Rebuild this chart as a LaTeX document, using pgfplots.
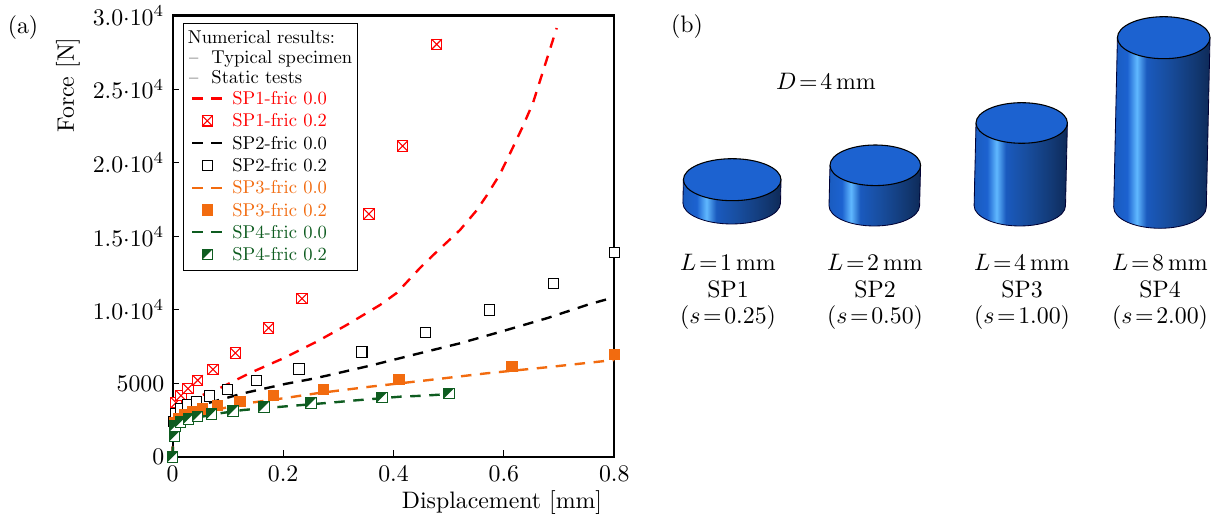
\documentclass[border=0pt]{standalone}
\usepackage{pgfplots}
\pgfplotsset{compat=1.18}
\font\legfont=cmr10 at 7.8pt
\definecolor{spred}{RGB}{255,0,0}
\definecolor{sporange}{RGB}{242,107,15}
\definecolor{spgreen}{RGB}{14,92,32}
\definecolor{cyltop}{RGB}{28,98,208}
\definecolor{cA}{RGB}{26,92,192}
\definecolor{cB}{RGB}{28,98,208}
\definecolor{cC}{RGB}{96,184,255}
\definecolor{cD}{RGB}{26,90,190}
\definecolor{cE}{RGB}{24,78,160}
\definecolor{cF}{RGB}{18,56,114}
\definecolor{cG}{RGB}{14,42,88}
\pgfdeclarehorizontalshading{cyl}{100bp}{
 color(0bp)=(cA);
 color(25bp)=(cA);
 color(32bp)=(cB);
 color(37bp)=(cC);
 color(42bp)=(cD);
 color(52.5bp)=(cE);
 color(67.5bp)=(cF);
 color(75bp)=(cG);
 color(100bp)=(cG)}
\pgfdeclareplotmark{sqx}{%
 \pgfpathrectangle{\pgfpoint{-\pgfplotmarksize}{-\pgfplotmarksize}}{\pgfpoint{2\pgfplotmarksize}{2\pgfplotmarksize}}%
 \pgfusepathqfillstroke
 \pgfpathmoveto{\pgfpoint{-\pgfplotmarksize}{-\pgfplotmarksize}}%
 \pgfpathlineto{\pgfpoint{\pgfplotmarksize}{\pgfplotmarksize}}%
 \pgfpathmoveto{\pgfpoint{-\pgfplotmarksize}{\pgfplotmarksize}}%
 \pgfpathlineto{\pgfpoint{\pgfplotmarksize}{-\pgfplotmarksize}}%
 \pgfusepathqstroke}
\pgfdeclareplotmark{sqhalf}{%
 \pgfsetfillcolor{white}%
 \pgfpathrectangle{\pgfpoint{-\pgfplotmarksize}{-\pgfplotmarksize}}{\pgfpoint{2\pgfplotmarksize}{2\pgfplotmarksize}}%
 \pgfusepathqfillstroke
 \pgfsetfillcolor{spgreen}%
 \pgfpathmoveto{\pgfpoint{-\pgfplotmarksize}{-\pgfplotmarksize}}%
 \pgfpathlineto{\pgfpoint{-\pgfplotmarksize}{\pgfplotmarksize}}%
 \pgfpathlineto{\pgfpoint{\pgfplotmarksize}{\pgfplotmarksize}}%
 \pgfpathclose
 \pgfusepathqfill}
\newcommand{\rowB}{\vphantom{\rule[-2.6pt]{1pt}{9.2pt}}}
\newcommand{\rowAt}[2]{\raisebox{#1}[5.5pt][2.5pt]{#2}}
\newcommand{\cylinder}[6]{% top cx, top cy, rx, ry, bottom cx, bottom cy
 \shade[shading=cyl] (#1-#3,#2) -- (#5-#3,#6) arc[start angle=180,end angle=360,x radius=#3,y radius=#4] -- (#1+#3,#2) -- cycle;
 \draw[line width=0.35pt,black!80!blue] (#1-#3,#2) -- (#5-#3,#6) arc[start angle=180,end angle=360,x radius=#3,y radius=#4] -- (#1+#3,#2);
 \draw[line width=0.45pt,black,fill=cyltop] (#1,#2) ellipse[x radius=#3,y radius=#4];
}
\begin{document}
\begin{tikzpicture}[x=0.42pt,y=0.42pt]
\path[use as bounding box] (0,0) rectangle (1216,521);
\begin{axis}[
 at={(72.534pt,26.88pt)}, anchor=south west,
 scale only axis, width=185.47pt, height=185.35pt,
 xmin=0, xmax=0.8, ymin=0, ymax=30000,
 clip=false,
 xtick={0,0.2,0.4,0.6,0.8},
 xticklabels={0,0.2,0.4,0.6,0.8},
 ytick={0,5000,10000,15000,20000,25000,30000},
 yticklabels={0,5000,{$1.0{\cdot}10^4$},{$1.5{\cdot}10^4$},{$2.0{\cdot}10^4$},{$2.5{\cdot}10^4$},{$3.0{\cdot}10^4$}},
 scaled ticks=false,
 tick pos=left, tick align=inside,
 axis line style={line width=1pt},
 tick style={line width=0.4pt,black},
 major tick length=2.8pt,
 xlabel={Displacement [mm]},
 ylabel={Force [N]},
 xlabel style={at={(axis description cs:0.7457,-0.104)},anchor=center},
 ylabel style={at={(axis description cs:-0.237,0.843)},anchor=center},
 legend cell align=left,
 legend image code/.code={\draw[mark repeat=2,mark phase=2,#1] plot coordinates {(0cm,0cm)(0.22cm,0cm)(0.44cm,0cm)};},
 legend style={at={(axis description cs:0.0224,0.9828)},anchor=north west,font=\legfont,
   draw=black,line width=0.4pt,inner xsep=3.4pt,inner ysep=2.6pt,row sep=1.26pt,
   nodes={inner sep=0pt},
   /tikz/every odd column/.append style={column sep=3.8pt}},
 mark size=2.15pt,
 every axis plot/.append style={line width=1pt},
 ldash/.style={dash pattern=on 4.4pt off 3.6pt},
]
\addlegendimage{empty legend}\addlegendentry{\makebox[49.1pt][l]{\hspace*{-18.7pt}\rowAt{0pt}{Numerical results:}}}
\addlegendimage{empty legend}\addlegendentry{\makebox[0pt][l]{\hspace*{-18.7pt}\rowAt{-0.45pt}{--\hspace{2.9pt} Typical specimen}}}
\addlegendimage{empty legend}\addlegendentry{\makebox[0pt][l]{\hspace*{-18.7pt}\rowAt{-0.4pt}{--\hspace{2.9pt} Static tests}}}

\addplot[spred,ldash] coordinates {(0,0)(.0005,1835)(.006,2855)(.0223,3535)(.0495,4147)(.0857,4690)(.140,5710)(.2004,6710)(.2609,7838)(.3152,8973)(.3755,10333)(.4058,11149)(.4239,11876)(.448,12848)(.4721,13732)(.5205,15431)(.5507,16767)(.5688,17771)(.5925,19200)(.6141,20870)(.6334,22400)(.6527,24065)(.6957,29163)};
\addlegendentry{\rowB\textcolor{spred}{SP1-fric 0.0}}
\addplot[only marks,mark=sqx,mark options={solid,draw=spred,fill=white,line width=0.45pt}] coordinates {(.006,3691)(.015,4167)(.0277,4643)(.0453,5214)(.073,5962)(.1134,7070)(.1739,8770)(.2342,10761)(.2958,13208)(.3556,16519)(.4167,21142)(.4783,28055)};
\addlegendentry{\rowB\textcolor{spred}{SP1-fric 0.2}}

\addplot[black,ldash] coordinates {(0,0)(.0005,2200)(.0132,2855)(.0313,3331)(.0797,3827)(.1279,4330)(.2034,4963)(.2487,5282)(.279,5527)(.3574,6207)(.442,7002)(.5205,7729)(.5989,8566)(.6775,9429)(.756,10401)(.8,10857)};
\addlegendentry{\rowB SP2-fric 0.0}
\addplot[only marks,mark=square*,mark options={solid,draw=black,fill=white,line width=0.5pt}] coordinates {(.0011,2400)(.006,2971)(.0145,3263)(.0277,3555)(.0435,3787)(.067,4147)(.0996,4602)(.1522,5214)(.2288,5982)(.3429,7138)(.4583,8477)(.5743,9993)(.6895,11781)(.8,13888)};
\addlegendentry{\rowB SP2-fric 0.2}

\addplot[sporange,ldash] coordinates {(0,0)(.0005,1156)(.006,2175)(.0187,2651)(.0404,2991)(.0911,3311)(.1341,3651)(.2004,3990)(.2609,4330)(.3574,4779)(.454,5187)(.5688,5690)(.6775,6098)(.8,6594)};
\addlegendentry{\rowB\textcolor{sporange}{SP3-fric 0.0}}
\addplot[only marks,mark=square*,mark options={solid,draw=sporange,fill=sporange,line width=0.4pt}] coordinates {(.0042,2359)(.0114,2631)(.0223,2876)(.0362,3059)(.0543,3263)(.0808,3515)(.1219,3787)(.1822,4167)(.2736,4575)(.41,5255)(.6147,6139)(.8,6955)};
\addlegendentry{\rowB\textcolor{sporange}{SP3-fric 0.2}}

\addplot[spgreen,ldash] coordinates {(0,0)(.0005,816)(.006,1835)(.0187,2311)(.0404,2651)(.0857,2971)(.1279,3195)(.2125,3467)(.285,3691)(.3333,3855)(.4118,4099)(.454,4167)(.5024,4283)};
\addlegendentry{\rowB\textcolor{spgreen}{SP4-fric 0.0}}
\addplot[only marks,mark=sqhalf,mark options={solid,draw=spgreen,line width=0.45pt}] coordinates {(0,0)(.0036,1428)(.0042,2107)(.0145,2379)(.0283,2583)(.0453,2767)(.0707,2923)(.1092,3127)(.1654,3399)(.2505,3671)(.3792,4058)(.5005,4330)};
\addlegendentry{\rowB\textcolor{spgreen}{SP4-fric 0.2}}
\end{axis}

\node at (23,493) {(a)};
\node at (687,494) {(b)};
\node at (826,440) {$D\!=\!4\,\mathrm{mm}$};

\cylinder{732.2}{341.3}{48.8}{21}{731.7}{318}
\cylinder{875.3}{355.7}{45.3}{20.3}{874.3}{315.3}
\cylinder{1021.7}{398}{45.7}{20.3}{1019.8}{315.3}
\cylinder{1163.7}{483.3}{46.3}{21}{1160}{313.7}

\node at (728,259) {$L\!=\!1\,\mathrm{mm}$};
\node at (728,232) {SP1};
\node at (728,203) {$(s\!=\!0.25)$};
\node at (875,259) {$L\!=\!2\,\mathrm{mm}$};
\node at (875,232) {SP2};
\node at (875,203) {$(s\!=\!0.50)$};
\node at (1022,259) {$L\!=\!4\,\mathrm{mm}$};
\node at (1022,232) {SP3};
\node at (1022,203) {$(s\!=\!1.00)$};
\node at (1160,259) {$L\!=\!8\,\mathrm{mm}$};
\node at (1160,232) {SP4};
\node at (1160,203) {$(s\!=\!2.00)$};
\end{tikzpicture}
\end{document}
